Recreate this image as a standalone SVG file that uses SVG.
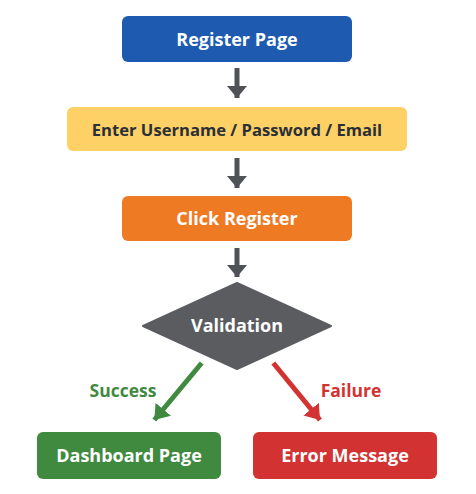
<svg xmlns="http://www.w3.org/2000/svg" width="476" height="494" viewBox="0 0 476 494">
<defs>
<marker id="ag" viewBox="0 0 12 20" refX="12" refY="10" markerWidth="2.4" markerHeight="4" markerUnits="strokeWidth" orient="auto"><path d="M0,0 L12,10 L0,20 z" fill="#4f5257"/></marker>
<marker id="agr" viewBox="0 0 14 20" refX="14" refY="10" markerWidth="2.8" markerHeight="4" markerUnits="strokeWidth" orient="auto"><path d="M0,0 L14,10 L0,20 z" fill="#3f8a3f"/></marker>
<marker id="ard" viewBox="0 0 14 20" refX="14" refY="10" markerWidth="2.8" markerHeight="4" markerUnits="strokeWidth" orient="auto"><path d="M0,0 L14,10 L0,20 z" fill="#d33232"/></marker>
</defs>
<style>
text{font-family:"Open Sans","Liberation Sans",sans-serif;font-weight:bold;text-anchor:middle;dominant-baseline:central}
.w{fill:#ffffff;font-size:18px}
.d{fill:#2b2f36;font-size:16.6px}
.c{stroke-width:5;fill:none}
</style>
<rect width="476" height="494" fill="#ffffff"/>
<g id="connectors">
<line class="c" x1="237" y1="68" x2="237" y2="98" stroke="#4f5257" marker-end="url(#ag)"/>
<line class="c" x1="237" y1="158" x2="237" y2="188" stroke="#4f5257" marker-end="url(#ag)"/>
<line class="c" x1="237" y1="248" x2="237" y2="277" stroke="#4f5257" marker-end="url(#ag)"/>
<line class="c" x1="201.7" y1="363" x2="154.3" y2="420" stroke="#3f8a3f" marker-end="url(#agr)"/>
<line class="c" x1="273.3" y1="363" x2="320" y2="420" stroke="#d33232" marker-end="url(#ard)"/>
<text x="123" y="390" style="fill:#3f8a3f;font-size:17.5px">Success</text>
<text x="351" y="390" style="fill:#d33232;font-size:17.5px">Failure</text>
</g>
<g id="register-page">
<rect x="122" y="16" width="230" height="46" rx="6" fill="#1e5bb0"/>
<text class="w" x="237" y="39">Register Page</text>
</g>
<g id="enter-credentials">
<rect x="67" y="107" width="340" height="44" rx="6" fill="#fdd166"/>
<text class="d" x="237" y="129">Enter Username / Password / Email</text>
</g>
<g id="click-register">
<rect x="122" y="196" width="230" height="45" rx="6" fill="#ef7a24"/>
<text class="w" x="237" y="218">Click Register</text>
</g>
<g id="validation">
<path d="M237,283 L331,326 L237,369 L143,326 Z" fill="#5a5c60" stroke="#5a5c60" stroke-width="2" stroke-linejoin="round"/>
<text class="w" x="237" y="325">Validation</text>
</g>
<g id="dashboard-page">
<rect x="37" y="432" width="184" height="47" rx="6" fill="#3f8a3f"/>
<text class="w" x="129" y="455">Dashboard Page</text>
</g>
<g id="error-message">
<rect x="253" y="432" width="184" height="47" rx="6" fill="#d33232"/>
<text class="w" x="345" y="455">Error Message</text>
</g>
</svg>
